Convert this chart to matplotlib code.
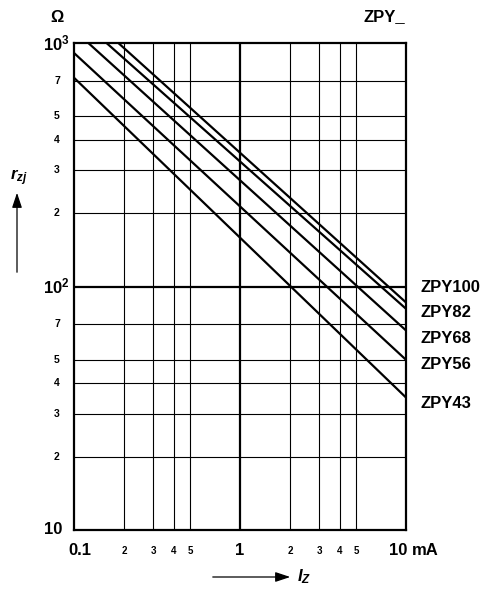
"""Differential resistance vs. Zener current, ZPY series (log-log)."""

import matplotlib
matplotlib.use("Agg")
import matplotlib.pyplot as plt
import matplotlib.transforms as mtransforms

plt.rcParams["font.family"] = ["Liberation Sans", "DejaVu Sans"]
plt.rcParams["font.weight"] = "bold"
plt.rcParams["mathtext.fontset"] = "custom"
plt.rcParams["mathtext.rm"] = "Liberation Sans:bold"
plt.rcParams["mathtext.bf"] = "Liberation Sans:bold"
plt.rcParams["mathtext.it"] = "Liberation Sans:italic:bold"

# curves: straight lines on log-log, start point -> end point
names = ["ZPY100", "ZPY82", "ZPY68", "ZPY56", "ZPY43"]
i_start = [0.185, 0.157, 0.122, 0.1, 0.1]      # mA
r_start = [1000, 1000, 1000, 910, 720]         # ohm
i_end = [10, 10, 10, 10, 10]
r_end = [86, 81, 66, 50, 35]
label_r = [99, 78, 61, 48, 33]                 # where the names sit at the right

x_major = [0.1, 1, 10]
x_major_lbl = ["0.1", "1", "10"]
x_minor = [0.2, 0.3, 0.4, 0.5, 2, 3, 4, 5]
x_minor_lbl = ["2", "3", "4", "5", "2", "3", "4", "5"]
y_major = [10, 100, 1000]
y_major_lbl = ["10", r"$10^2$", r"$10^3$"]
y_minor = [20, 30, 40, 50, 70, 200, 300, 400, 500, 700]
y_minor_lbl = ["2", "3", "4", "5", "7", "2", "3", "4", "5", "7"]

W, H = 493, 589
fig = plt.figure(figsize=(W / 100, H / 100), dpi=100)
ax = fig.add_axes([74 / W, 1 - 530 / H, 332 / W, 487 / H])
ax.set_xscale("log")
ax.set_yscale("log")
ax.set_xlim(0.1, 10)
ax.set_ylim(10, 1000)
ax.set_xticks([])
ax.set_yticks([])
ax.minorticks_off()
for s in ax.spines.values():
    s.set_linewidth(1.6)

# grid
for x in x_minor:
    ax.axvline(x, color="black", lw=0.8)
for y in y_minor:
    ax.axhline(y, color="black", lw=0.8)
ax.axvline(1, color="black", lw=1.6)
ax.axhline(100, color="black", lw=1.6)

for n, x0, y0, x1, y1, yl in zip(names, i_start, r_start, i_end, r_end, label_r):
    ax.plot([x0, x1], [y0, y1], color="black", lw=1.6, solid_capstyle="butt")
    ax.text(1.0, yl, n, transform=mtransforms.blended_transform_factory(ax.transAxes, ax.transData)
            + mtransforms.ScaledTranslation(14 / 100, 0, fig.dpi_scale_trans),
            ha="left", va="center", fontsize=12, fontweight="bold")

# tick labels
tx = mtransforms.blended_transform_factory(ax.transData, ax.transAxes)
ty = mtransforms.blended_transform_factory(ax.transAxes, ax.transData)
for x, t in zip(x_major, x_major_lbl):
    off = {0.1: 0.06, 1: 0.0, 10: -0.08}[x]
    ax.text(x, -0.043, t, transform=tx + mtransforms.ScaledTranslation(off, 0, fig.dpi_scale_trans),
            ha="center", va="center", fontsize=12, fontweight="bold")
ax.text(10, -0.043, "mA", transform=tx + mtransforms.ScaledTranslation(0.06, 0, fig.dpi_scale_trans),
        ha="left", va="center", fontsize=12, fontweight="bold")
for x, t in zip(x_minor, x_minor_lbl):
    ax.text(x, -0.043, t, transform=tx, ha="center", va="center", fontsize=7, fontweight="bold")
for y, t in zip(y_major, y_major_lbl):
    dx = -0.12 if y == 10 else -0.04
    ax.text(0, y, t, transform=ty + mtransforms.ScaledTranslation(dx, 0, fig.dpi_scale_trans),
            ha="right", va="center", fontsize=12, fontweight="bold")
for y, t in zip(y_minor, y_minor_lbl):
    ax.text(0, y, t, transform=ty + mtransforms.ScaledTranslation(-0.17, 0, fig.dpi_scale_trans),
            ha="center", va="center", fontsize=7.5, fontweight="bold")

# units, title
fig.text(57 / W, 1 - 17 / H, "\u03a9", ha="center", va="center", fontsize=12, fontweight="bold")
fig.text(405 / W, 1 - 17 / H, "ZPY_", ha="right", va="center", fontsize=12, fontweight="bold")

# axis names with arrows
ax.annotate("", xy=(17, H - 190), xytext=(17, H - 275), xycoords="figure pixels",
            textcoords="figure pixels",
            arrowprops=dict(arrowstyle="-|>,head_length=0.9,head_width=0.3", color="black", lw=0.9))
fig.text(19 / W, 1 - 178 / H, r"$r_{zj}$", ha="center", va="center", fontsize=12)
ax.annotate("", xy=(293, H - 577), xytext=(210, H - 577), xycoords="figure pixels",
            textcoords="figure pixels",
            arrowprops=dict(arrowstyle="-|>,head_length=0.9,head_width=0.3", color="black", lw=0.9))
fig.text(297 / W, 1 - 577 / H, r"$I_Z$", ha="left", va="center", fontsize=12)

fig.savefig("out.png", dpi=100)
